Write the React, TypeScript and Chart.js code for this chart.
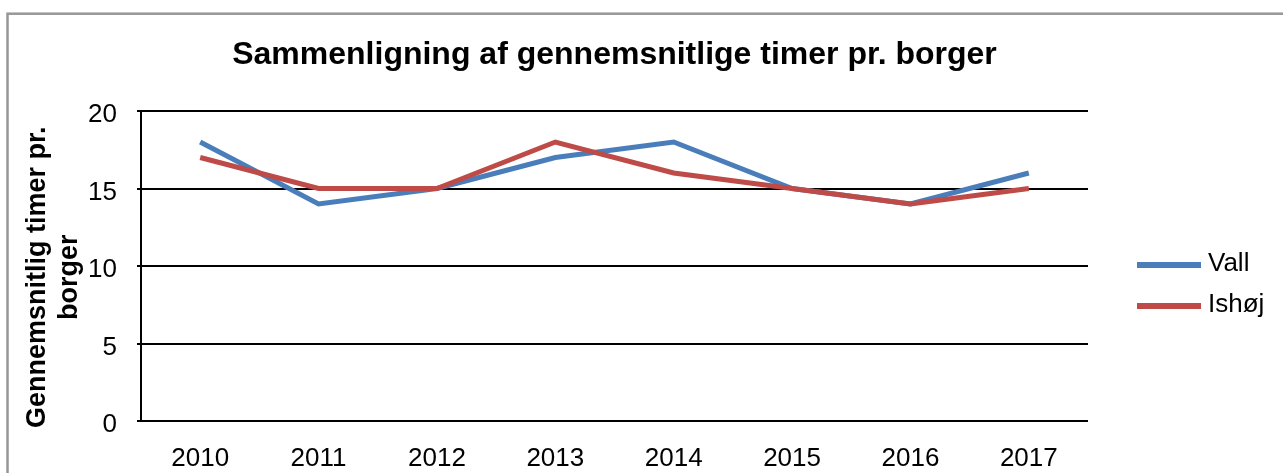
import { useEffect, useRef } from "react";
import { Chart, registerables } from "chart.js";

Chart.register(...registerables);

const years = ["2010", "2011", "2012", "2013", "2014", "2015", "2016", "2017"];
const vallValues = [18, 14, 15, 17, 18, 15, 14, 16];
const ishojValues = [17, 15, 15, 18, 16, 15, 14, 15];
const seriesNames = ["Vall", "Ishøj"];
const seriesColors = ["#4a7ebb", "#be4b48"];
const yTickValues = [0, 5, 10, 15, 20];
const chartTitle = "Sammenligning af gennemsnitlige timer pr. borger";
const yAxisTitle = ["Gennemsnitlig timer pr.   ", "borger   "];

const FONT = "'Liberation Sans', Arial, sans-serif";

const framePlugin = {
  id: "frame",
  beforeDraw(chart: any) {
    const ctx = chart.ctx;
    ctx.save();
    ctx.fillStyle = "#ffffff";
    ctx.fillRect(0, 0, chart.width, chart.height);
    ctx.strokeStyle = "#979797";
    ctx.lineWidth = 2.5;
    ctx.strokeRect(7.5, 13.7, chart.width + 50, chart.height + 50);
    ctx.restore();
  },
};

const legendPlugin = {
  id: "sideLegend",
  afterDraw(chart: any) {
    const { ctx, chartArea } = chart;
    const mid = (chartArea.top + chartArea.bottom) / 2;
    const x0 = chartArea.right + 49;
    ctx.save();
    chart.data.datasets.forEach((ds: any, i: number) => {
      const y = mid - 1 + i * 41;
      ctx.strokeStyle = ds.borderColor;
      ctx.lineWidth = 6;
      ctx.beginPath();
      ctx.moveTo(x0, y);
      ctx.lineTo(x0 + 64, y);
      ctx.stroke();
      ctx.fillStyle = "#000000";
      ctx.font = `26px ${FONT}`;
      ctx.textBaseline = "middle";
      ctx.textAlign = "left";
      ctx.fillText(ds.label, x0 + 71, y - 1);
    });
    ctx.restore();
  },
};

export default function App() {
  const canvasRef = useRef<HTMLCanvasElement | null>(null);

  useEffect(() => {
    if (!canvasRef.current) return;
    const chart = new Chart(canvasRef.current, {
      type: "line",
      data: {
        labels: years,
        datasets: [
          {
            label: seriesNames[0],
            data: vallValues,
            borderColor: seriesColors[0],
            backgroundColor: seriesColors[0],
            borderWidth: 5,
            pointRadius: 0,
            tension: 0,
            order: 1,
          },
          {
            label: seriesNames[1],
            data: ishojValues,
            borderColor: seriesColors[1],
            backgroundColor: seriesColors[1],
            borderWidth: 5,
            pointRadius: 0,
            tension: 0,
            order: 0,
          },
        ],
      },
      options: {
        animation: false,
        responsive: false,
        devicePixelRatio: 1,
        layout: { padding: { top: 20, left: 14, right: 195, bottom: 0 } },
        plugins: {
          legend: { display: false },
          tooltip: { enabled: false },
          title: {
            display: true,
            text: chartTitle,
            fullSize: false,
            color: "#000000",
            font: { family: FONT, size: 32, weight: "bold" },
            padding: { top: 16, bottom: 36.6 },
          },
        },
        scales: {
          x: {
            type: "category",
            offset: true,
            grid: { display: false, drawTicks: false },
            border: { display: false },
            ticks: {
              color: "#000000",
              font: { family: FONT, size: 26 },
              padding: 22,
              maxRotation: 0,
              autoSkip: false,
            },
            afterFit: (scale: any) => {
              scale.height = 52;
            },
          },
          y: {
            min: 0,
            max: 20,
            afterBuildTicks: (scale: any) => {
              scale.ticks = yTickValues.map((v) => ({ value: v }));
            },
            grid: {
              color: "#000000",
              lineWidth: 2,
              drawTicks: true,
              tickLength: 4,
              tickColor: "#000000",
              tickWidth: 2,
            },
            border: { display: true, color: "#000000", width: 2 },
            ticks: {
              color: "#000000",
              font: { family: FONT, size: 26 },
              padding: 20,
              labelOffset: 4,
            },
            title: {
              display: true,
              text: yAxisTitle,
              color: "#000000",
              font: { family: FONT, size: 27, weight: "bold" },
              padding: { top: 7, bottom: 0 },
            },
            afterFit: (scale: any) => {
              scale.width = 127;
            },
          },
        },
      },
      plugins: [framePlugin, legendPlugin],
    });
    return () => chart.destroy();
  }, []);

  return (
    <div style={{ position: "absolute", left: 0, top: 0, width: 1283, height: 473 }}>
      <canvas ref={canvasRef} width={1283} height={473} />
    </div>
  );
}
